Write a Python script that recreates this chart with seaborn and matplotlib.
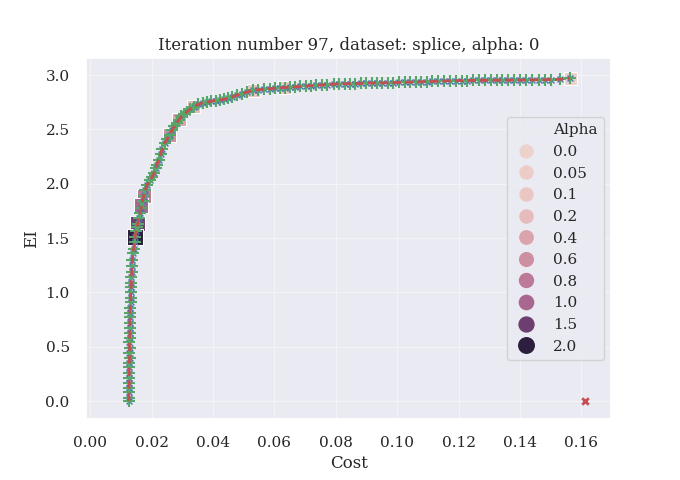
import matplotlib
matplotlib.use("Agg")
import matplotlib.pyplot as plt
import seaborn as sns
import pandas as pd
from matplotlib.lines import Line2D

# best point found for each alpha
alphas = [0.0, 0.05, 0.1, 0.2, 0.4, 0.6, 0.8, 1.0, 1.5, 2.0]
best_cost = [0.1564, 0.0633, 0.0532, 0.0337, 0.0289, 0.0258, 0.0174, 0.0166, 0.0154, 0.0146]
best_ei = [2.970, 2.885, 2.860, 2.710, 2.590, 2.450, 1.890, 1.800, 1.630, 1.510]

# candidate curve (cost, EI)
cost = [0.0125, 0.0126, 0.0125, 0.0126, 0.0127, 0.0126, 0.0127, 0.0126, 0.0127, 0.0128,
        0.0127, 0.0128, 0.0127, 0.0128, 0.0129, 0.0128, 0.0129, 0.0130, 0.0129, 0.0130,
        0.0131, 0.0132, 0.0131, 0.0133, 0.0134, 0.0134, 0.0135, 0.0136, 0.0137, 0.0139,
        0.0141, 0.0144, 0.0146, 0.0149, 0.0152, 0.0154, 0.0158, 0.0162, 0.0166, 0.0170,
        0.0174, 0.0179, 0.0185, 0.0193, 0.0201, 0.0208, 0.0213, 0.0217, 0.0223, 0.0229,
        0.0234, 0.0242, 0.0250, 0.0258, 0.0266, 0.0274, 0.0281, 0.0289, 0.0297, 0.0306,
        0.0315, 0.0326, 0.0337, 0.0352, 0.0366, 0.0380, 0.0394, 0.0408, 0.0421, 0.0434,
        0.0448, 0.0463, 0.0478, 0.0494, 0.0511, 0.0529, 0.0548, 0.0566, 0.0584, 0.0602,
        0.0619, 0.0633, 0.0651, 0.0668, 0.0684, 0.0702, 0.0720, 0.0737, 0.0755, 0.0771,
        0.0793, 0.0810, 0.0829, 0.0846, 0.0864, 0.0881, 0.0899, 0.0917, 0.0935, 0.0952,
        0.0970, 0.0988, 0.1006, 0.1024, 0.1042, 0.1060, 0.1079, 0.1097, 0.1115, 0.1134,
        0.1153, 0.1173, 0.1191, 0.1210, 0.1229, 0.1248, 0.1267, 0.1286, 0.1305, 0.1324,
        0.1343, 0.1362, 0.1381, 0.1400, 0.1420, 0.1440, 0.1461, 0.1482, 0.1503, 0.1531,
        0.1564]
ei = [0.00, 0.03, 0.08, 0.12, 0.17, 0.21, 0.26, 0.31, 0.35, 0.40,
      0.44, 0.49, 0.54, 0.58, 0.63, 0.67, 0.72, 0.77, 0.81, 0.86,
      0.91, 0.95, 1.00, 1.05, 1.09, 1.14, 1.19, 1.24, 1.30, 1.36,
      1.40, 1.46, 1.51, 1.56, 1.60, 1.63, 1.68, 1.73, 1.78, 1.84,
      1.89, 1.94, 1.99, 2.03, 2.06, 2.10, 2.14, 2.17, 2.22, 2.27,
      2.32, 2.37, 2.41, 2.45, 2.49, 2.53, 2.56, 2.59, 2.62, 2.64,
      2.66, 2.69, 2.71, 2.73, 2.745, 2.75, 2.76, 2.765, 2.77, 2.775,
      2.785, 2.80, 2.815, 2.83, 2.845, 2.86, 2.865, 2.87, 2.875, 2.88,
      2.883, 2.885, 2.888, 2.892, 2.895, 2.899, 2.902, 2.905, 2.909, 2.912,
      2.916, 2.918, 2.919, 2.921, 2.922, 2.924, 2.925, 2.926, 2.927, 2.928,
      2.929, 2.930, 2.932, 2.933, 2.935, 2.936, 2.938, 2.939, 2.941, 2.943,
      2.945, 2.947, 2.948, 2.949, 2.949, 2.950, 2.950, 2.951, 2.951, 2.952,
      2.952, 2.952, 2.953, 2.953, 2.954, 2.955, 2.956, 2.957, 2.958, 2.960,
      2.970]

# isolated point
outlier_cost = [0.1612]
outlier_ei = [0.0]

sns.set_theme(style="darkgrid", font="serif",
              rc={"grid.linewidth": 0.8, "grid.color": "#f4f4f7",
                  "xtick.major.pad": 6, "ytick.major.pad": 6})
plt.rcParams["font.family"] = ["DejaVu Serif"]

fig, ax = plt.subplots(figsize=(6.8, 4.8), dpi=100)
fig.subplots_adjust(left=0.127, right=0.899, top=0.879, bottom=0.127)

best = pd.DataFrame({"Cost": best_cost, "EI": best_ei, "Alpha": alphas})
curve = pd.DataFrame({"Cost": cost, "EI": ei})
pal = sns.color_palette("deep")

sns.scatterplot(data=best, x="Cost", y="EI", hue="Alpha", size="Alpha",
                sizes=(85, 125), marker="s", legend="full", ax=ax)
sns.scatterplot(data=curve, x="Cost", y="EI", color=pal[0], marker="x",
                s=18, linewidth=1.0, ax=ax)
sns.scatterplot(data=curve, x="Cost", y="EI", color=pal[2], marker="+",
                s=75, linewidth=1.5, ax=ax)
sns.lineplot(data=curve, x="Cost", y="EI", color=pal[3], sort=False,
             estimator=None, linewidth=2.0, ax=ax, dashes=False)
ax.lines[-1].set_dashes([3, 1.5])
sns.scatterplot(x=outlier_cost, y=outlier_ei, color=pal[3], marker="x",
                s=22, linewidth=2, ax=ax)

old = ax.get_legend()
handles = [Line2D([], [], linestyle="", marker="")]
labels = ["Alpha"]
for h, t in zip(old.legend_handles, old.get_texts()):
    if t.get_text() == "Alpha":
        continue
    handles.append(Line2D([], [], linestyle="", marker="o",
                          markersize=h.get_markersize(),
                          markerfacecolor=h.get_markerfacecolor(),
                          markeredgecolor=h.get_markerfacecolor()))
    labels.append(t.get_text())
ax.legend(handles, labels, loc="center right", handlelength=1.6,
          handletextpad=1.0)

ax.set_xlim(-0.0013, 0.1698)
ax.set_ylim(-0.166, 3.156)
ax.set_title("Iteration number 97, dataset: splice, alpha: 0")
ax.set_xlabel("Cost")
ax.set_ylabel("EI")

plt.savefig("out.png", dpi=100)
